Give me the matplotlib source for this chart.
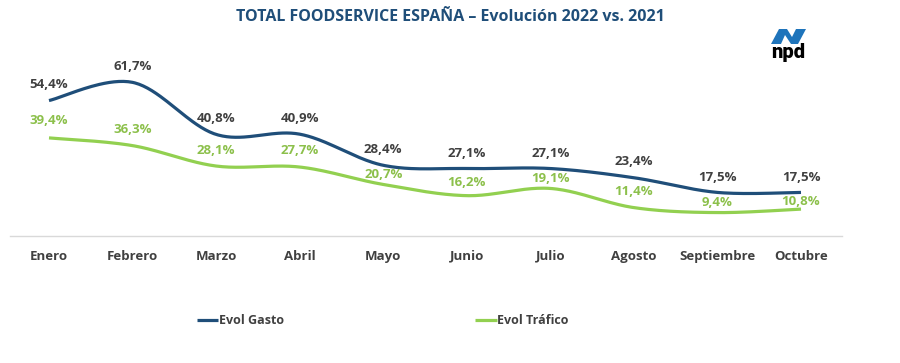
import numpy as np
import matplotlib
matplotlib.use("Agg")
import matplotlib.pyplot as plt
from matplotlib.patches import Polygon

months = ["Enero", "Febrero", "Marzo", "Abril", "Mayo", "Junio", "Julio",
          "Agosto", "Septiembre", "Octubre"]
gasto = [54.4, 61.7, 40.8, 40.9, 28.4, 27.1, 27.1, 23.4, 17.5, 17.5]
trafico = [39.4, 36.3, 28.1, 27.7, 20.7, 16.2, 19.1, 11.4, 9.4, 10.8]
series_names = ["Evol Gasto", "Evol Tráfico"]
title = "TOTAL FOODSERVICE ESPAÑA – Evolución 2022 vs. 2021"

# label offsets above points (pixels)
gasto_off = [16, 16, 16, 16, 16, 15, 15, 16, 15, 15]
trafico_off = [17, 16, 16, 17, 10, 13, 10, 16, 10, 8]

BLUE = "#1f4e79"
GREEN = "#92d050"
GREEN_TXT = "#8cc04b"
GRAY = "#404040"

plt.rcParams['font.family'] = ['Open Sans', 'DejaVu Sans']


def smooth(x, y, n=40):
    x = np.asarray(x, float)
    y = np.asarray(y, float)
    xs, ys = [], []
    for i in range(len(x) - 1):
        p0 = np.array([x[i], y[i]])
        p3 = np.array([x[i + 1], y[i + 1]])
        pm = np.array([x[i - 1], y[i - 1]]) if i > 0 else p0
        pp = np.array([x[i + 2], y[i + 2]]) if i + 2 < len(x) else p3
        c1 = p0 + (p3 - pm) / 6
        c2 = p3 - (pp - p0) / 6
        t = np.linspace(0, 1, n)[:, None]
        b = ((1 - t) ** 3) * p0 + 3 * ((1 - t) ** 2) * t * c1 + 3 * (1 - t) * t ** 2 * c2 + t ** 3 * p3
        xs.extend(b[:, 0])
        ys.extend(b[:, 1])
    return xs, ys


fig = plt.figure(figsize=(9, 3.63), dpi=100)
ax = fig.add_axes([10 / 900, 1 - 236 / 363, (842 - 10) / 900, (236 - 50) / 363])
x = np.arange(len(months))
step = (801 - 49) / 9
ax.set_xlim(-(49 - 10) / step, 9 + (842 - 801) / step)
ax.set_ylim(0, 74.7)

gx, gy = smooth(x, gasto)
tx, ty = smooth(x, trafico)
lg, = ax.plot(gx, gy, color=BLUE, lw=2.3, solid_capstyle='butt', label=series_names[0])
lt, = ax.plot(tx, ty, color=GREEN, lw=2.3, solid_capstyle='butt', label=series_names[1])

for xi, v, o in zip(x, gasto, gasto_off):
    ax.annotate(f"{v:.1f}".replace(".", ",") + "%", (xi, v), xytext=(0, o * 0.72),
                textcoords='offset points', ha='center', va='center',
                fontsize=9.5, fontweight='bold', color=GRAY)
for xi, v, o in zip(x, trafico, trafico_off):
    ax.annotate(f"{v:.1f}".replace(".", ",") + "%", (xi, v), xytext=(0, o * 0.72),
                textcoords='offset points', ha='center', va='center',
                fontsize=9.5, fontweight='bold', color=GREEN_TXT)

for s in ['top', 'right', 'left']:
    ax.spines[s].set_visible(False)
ax.spines['bottom'].set_color('#d9d9d9')
ax.spines['bottom'].set_linewidth(1)
ax.set_yticks([])
ax.set_xticks(x)
ax.set_xticklabels(months, fontsize=9.5, fontweight='bold', color=GRAY)
ax.tick_params(axis='x', length=0, pad=10)

fig.text(0.5, 1 - 17 / 363, title, ha='center', va='center', fontsize=11.5,
         fontweight='bold', color=BLUE)

leg = fig.legend(handles=[lg, lt], loc='center', bbox_to_anchor=(383 / 900, 1 - 321 / 363),
                 ncol=2, frameon=False, handlelength=1.7, handletextpad=0.05,
                 columnspacing=15.3, prop={'size': 9, 'weight': 'bold'})
for t in leg.get_texts():
    t.set_color(GRAY)

# npd logo
W, H = 900, 363
def fc(px, py):
    return (px / W, 1 - py / H)
logo = Polygon([fc(771, 44), fc(779, 29), fc(787, 29), fc(792, 37), fc(796, 29),
                fc(806, 29), fc(798, 44), fc(791, 44), fc(785, 35), fc(781, 44)],
               closed=True, transform=fig.transFigure, facecolor='#1e74bb',
               edgecolor='none')
fig.patches.append(logo)
fig.text(788 / W, 1 - 53 / H, "npd", ha='center', va='center', fontsize=14.5,
         fontweight='black', color='black', family=['Roboto', 'DejaVu Sans'])

fig.savefig("out.png", dpi=100)
